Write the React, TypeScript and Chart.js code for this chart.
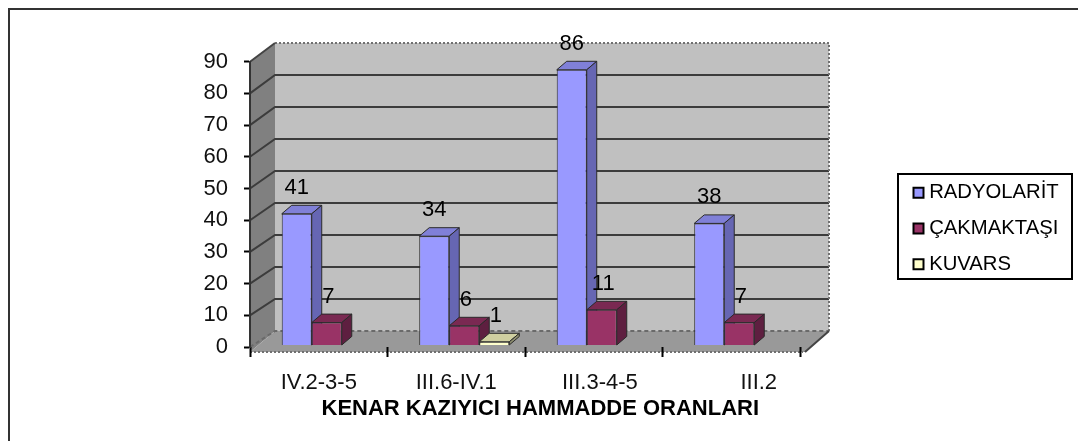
import React, { useEffect, useRef } from "react";
import { Chart, registerables } from "chart.js";

Chart.register(...registerables);

const categories = ["IV.2-3-5", "III.6-IV.1", "  III.3-4-5", "         III.2"];
const radyolarit = [41, 34, 86, 38];
const cakmaktasi = [7, 6, 11, 7];
const kuvars = [null, 1, null, null];
const seriesNames = ["RADYOLARİT", "ÇAKMAKTAŞI", "KUVARS"];
const axisTitle = "     KENAR KAZIYICI HAMMADDE ORANLARI";
const FONT = "'Liberation Sans', Arial, sans-serif";

const front = ["#9999FF", "#993366", "#FFFFCC"];
const tops = ["#8080D8", "#7A2952", "#CFCFA0"];
const sides = ["#6666B3", "#5E1F40", "#8F8F70"];
const swatch = ["#9999FF", "#993366", "#FFFFCC"];
const DX = 10;
const DY = 8.5;

function poly(ctx: CanvasRenderingContext2D, pts: number[][], fill: string, stroke?: string) {
  ctx.beginPath();
  pts.forEach((p, i) => (i ? ctx.lineTo(p[0], p[1]) : ctx.moveTo(p[0], p[1])));
  ctx.closePath();
  ctx.fillStyle = fill;
  ctx.fill();
  if (stroke) {
    ctx.strokeStyle = stroke;
    ctx.lineWidth = 1;
    ctx.stroke();
  }
}

const depthPlugin = {
  id: "depth",
  beforeLayout(chart: any) {
    const lg = chart.legend;
    if (lg && !lg.__patched) {
      lg.__patched = true;
      const fit = lg.fit;
      lg.fit = function () {
        fit.call(this);
        this.width = 278;
      };
    }
  },
  afterLayout(chart: any) {
    const lg = chart.legend;
    lg.left = 902.5;
    lg.right = 1072;
    lg.top = 167;
    lg.bottom = 441;
  },
  beforeDraw(chart: any) {
    const ctx: CanvasRenderingContext2D = chart.ctx;
    const sx = chart.scales.x;
    const sy = chart.scales.y;
    const L = sx.left;
    const R = sx.right;
    const BL = 275;
    const BR = 829;
    const frontY = (v: number) => sy.getPixelForValue(v);
    const backY = (v: number) => 331 - (sy.bottom - frontY(v)) * 1.0095;
    const floorFront = 352;

    ctx.save();
    // page frame
    ctx.strokeStyle = "#333";
    ctx.lineWidth = 2;
    ctx.beginPath();
    ctx.moveTo(9, 441);
    ctx.lineTo(9, 9);
    ctx.lineTo(1078, 9);
    ctx.stroke();

    // walls
    poly(ctx, [[BL, backY(90)], [BR, backY(90)], [BR, 331], [BL, 331]], "#C0C0C0");
    poly(ctx, [[L, frontY(90)], [BL, backY(90)], [BL, 331], [L, floorFront]], "#808080");
    poly(ctx, [[L, floorFront], [BL, 331], [BR, 331], [R + 5, floorFront]], "#999999");

    // gridlines on side and back walls
    sy.ticks.forEach((t: any) => {
      if (t.value === 90) return;
      ctx.beginPath();
      ctx.moveTo(L, frontY(t.value));
      ctx.lineTo(BL, backY(t.value));
      ctx.lineTo(BR, backY(t.value));
      ctx.strokeStyle = t.value === 0 ? "#6a6a6a" : "#3c3c3c";
      ctx.lineWidth = 2;
      ctx.setLineDash(t.value === 0 ? [4, 3] : []);
      ctx.stroke();
      ctx.setLineDash([]);
    });

    // dotted wall and floor edges
    ctx.lineWidth = 2;
    ctx.strokeStyle = "#707070";
    ctx.setLineDash([2, 2]);
    ctx.beginPath();
    ctx.moveTo(BL, backY(90));
    ctx.lineTo(BR, backY(90));
    ctx.lineTo(BR, 331);
    ctx.moveTo(L, floorFront);
    ctx.lineTo(R + 3, floorFront);
    ctx.stroke();
    ctx.setLineDash([]);

    ctx.strokeStyle = "#444";
    ctx.beginPath();
    ctx.moveTo(BL, backY(90));
    ctx.lineTo(L, frontY(90));
    ctx.moveTo(BR, 331);
    ctx.lineTo(R + 5, floorFront);
    ctx.stroke();
    ctx.restore();
  },
  beforeDatasetDraw() {
    return false;
  },
  beforeDatasetsDraw(chart: any) {
    const ctx: CanvasRenderingContext2D = chart.ctx;
    chart.data.datasets.forEach((_: any, di: number) => {
      const meta = chart.getDatasetMeta(di);
      meta.data.forEach((el: any, i: number) => {
        const raw = (chart.data.datasets[di].data[i] as any).y;
        if (raw == null) return;
        const x0 = el.x - el.width / 2;
        const x1 = el.x + el.width / 2;
        const y = el.y;
        const b = el.base;
        const edge = "#2a2a2a";
        poly(ctx, [[x0, y], [x1, y], [x1 + DX, y - DY], [x0 + DX, y - DY]], tops[di], edge);
        poly(ctx, [[x1, y], [x1 + DX, y - DY], [x1 + DX, b - DY], [x1, b]], sides[di], edge);
        el.draw(ctx);
      });
    });
  },
  afterDatasetsDraw(chart: any) {
    const ctx: CanvasRenderingContext2D = chart.ctx;
    ctx.save();
    ctx.font = `22px ${FONT}`;
    ctx.fillStyle = "#000";
    ctx.textAlign = "center";
    ctx.textBaseline = "middle";
    chart.data.datasets.forEach((ds: any, di: number) => {
      chart.getDatasetMeta(di).data.forEach((el: any, i: number) => {
        const v = ds.data[i].y;
        if (v != null) ctx.fillText(String(v), el.x + (di === 0 ? 0 : 1.5), el.y - 26);
      });
    });
    ctx.restore();
  },
  afterDraw(chart: any) {
    const ctx: CanvasRenderingContext2D = chart.ctx;
    ctx.save();
    ctx.strokeStyle = "#000";
    ctx.lineWidth = 2;
    ctx.strokeRect(898, 174, 174, 105);
    ctx.restore();
  },
};

export default function App() {
  const ref = useRef<HTMLCanvasElement>(null);
  useEffect(() => {
    const toPoints = (vals: (number | null)[]) => vals.map((y, x) => ({ x, y }));
    const chart = new Chart(ref.current as HTMLCanvasElement, {
      type: "bar",
      plugins: [depthPlugin as any],
      data: {
        labels: categories,
        datasets: [radyolarit, cakmaktasi, kuvars].map((vals, i) => ({
          label: seriesNames[i],
          data: toPoints(vals) as any,
          xAxisID: "xBar",
          yAxisID: "yBar",
          backgroundColor: front[i],
          borderColor: "#2a2a2a",
          borderWidth: 1,
          categoryPercentage: 0.655,
          barPercentage: 1,
        })),
      },
      options: {
        responsive: false,
        animation: false,
        events: [],
        layout: { padding: { left: 0, right: 0, top: 61.7, bottom: 0 } },
        plugins: {
          tooltip: { enabled: false },
          title: { display: false },
          legend: {
            display: true,
            position: "right",
            align: "start",
            labels: {
              color: "#000",
              font: { family: FONT, size: 20.3 },
              usePointStyle: true,
              pointStyle: "rect",
              boxWidth: 1,
              boxHeight: 10,
              padding: 15.5,
              generateLabels: (c: any) =>
                c.data.datasets.map((d: any, i: number) => ({
                  text: d.label,
                  fillStyle: swatch[i],
                  strokeStyle: "#000",
                  lineWidth: 2,
                  pointStyle: "rect",
                  datasetIndex: i,
                  fontColor: "#000",
                })),
            },
          },
        },
        scales: {
          x: {
            type: "category",
            position: "bottom",
            offset: true,
            afterFit: (s: any) => {
              s.height = 94;
            },
            border: { display: false },
            grid: {
              offset: true,
              drawOnChartArea: false,
              drawTicks: true,
              tickLength: 10,
              tickWidth: 2,
              tickColor: "#000",
            },
            ticks: {
              color: "#111",
              font: { family: FONT, size: 22 },
              padding: 13,
              maxRotation: 0,
              autoSkip: false,
            },
            title: {
              display: true,
              text: axisTitle,
              color: "#000",
              font: { family: FONT, size: 22, weight: "bold" },
              padding: { top: 0, bottom: 19 },
            },
          },
          y: {
            type: "linear",
            position: "left",
            min: 0,
            max: 90,
            afterFit: (s: any) => {
              s.width = 250;
            },
            border: { display: true, color: "#333", width: 2 },
            grid: {
              drawOnChartArea: false,
              drawTicks: true,
              tickLength: 6,
              tickWidth: 2,
              tickColor: "#000",
            },
            ticks: {
              stepSize: 10,
              color: "#111",
              font: { family: FONT, size: 22 },
              padding: 16,
            },
          },
          xBar: {
            type: "linear",
            display: false,
            position: "bottom",
            offset: false,
            grid: { offset: false },
            min: -0.5582,
            max: 3.4418,
            ticks: { stepSize: 1, includeBounds: false },
          },
          yBar: {
            type: "linear",
            display: false,
            position: "left",
            min: -0.625,
            max: 88.53,
          },
        },
      } as any,
    });
    return () => chart.destroy();
  }, []);
  return (
    <div style={{ position: "absolute", left: 0, top: 0, width: 1078, height: 441 }}>
      <canvas ref={ref} width={1078} height={441} style={{ display: "block" }} />
    </div>
  );
}
